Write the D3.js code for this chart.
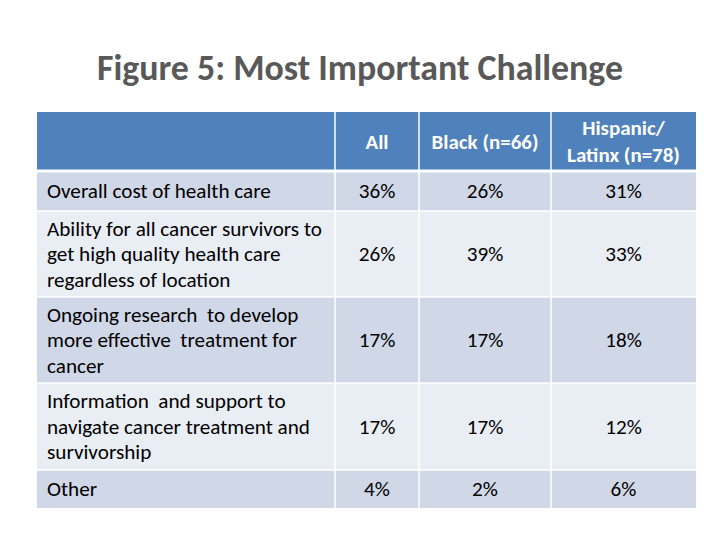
<!DOCTYPE html>
<html>
<head>
<meta charset="utf-8">
<script src="https://cdn.jsdelivr.net/npm/d3@7"></script>
<style>
  html, body { margin: 0; padding: 0; background: #ffffff; }
  svg { display: block; }
</style>
</head>
<body>
<svg id="chart" width="720" height="540"></svg>
<script>
// ---- Data ----
const title = "Figure 5: Most Important Challenge";
const columnHeaders = [[""], ["All"], ["Black (n=66)"], ["Hispanic/", "Latinx (n=78)"]];
const categories = [
  ["Overall cost of health care"],
  ["Ability for all cancer survivors to", "get high quality health care", "regardless of location"],
  ["Ongoing research  to develop", "more effective  treatment for", "cancer"],
  ["Information  and support to", "navigate cancer treatment and", "survivorship"],
  ["Other"]
];
const allValues = ["36%", "26%", "17%", "17%", "4%"];
const blackValues = ["26%", "39%", "17%", "17%", "2%"];
const hispanicValues = ["31%", "33%", "18%", "12%", "6%"];

// ---- Layout ----
const svg = d3.select("#chart");
const FONT = "Carlito, Calibri, Lato, 'Open Sans', sans-serif";
const colEdges = [37, 335, 419, 551, 696];
const headerTop = 112, headerBottom = 171;
const rowHeights = [40, 86, 86, 87, 38];
const rowTops = [];
{ let y = headerBottom; rowHeights.forEach(h => { rowTops.push(y); y += h; }); }

const xCol = d3.scaleOrdinal().domain([0,1,2,3]).range(colEdges.slice(0,4));
const colWidth = i => colEdges[i+1] - colEdges[i];
const rowFill = i => (i % 2 === 0 ? "#D0D8E8" : "#E9EDF4");

// Title
const t = svg.append("text")
  .attr("x", 360).attr("y", 80)
  .attr("text-anchor", "middle")
  .attr("font-family", FONT).attr("font-weight", "bold")
  .attr("font-size", 32).attr("fill", "#595959")
  .text(title);
{
  const w = t.node().getComputedTextLength();
  t.attr("font-size", 32 * 526 / w);
}

// Header
const header = svg.append("g");
columnHeaders.forEach((lines, i) => {
  header.append("rect")
    .attr("x", xCol(i)).attr("y", headerTop)
    .attr("width", colWidth(i)).attr("height", headerBottom - headerTop)
    .attr("fill", "#4F81BD");
  const cy = (headerTop + headerBottom) / 2;
  const lh = 27;
  lines.forEach((ln, k) => {
    header.append("text")
      .attr("x", xCol(i) + colWidth(i) / 2)
      .attr("y", cy + (k - (lines.length - 1) / 2) * lh + 7)
      .attr("text-anchor", "middle")
      .attr("font-family", FONT).attr("font-weight", "bold")
      .attr("font-size", 18).attr("fill", "#ffffff")
      .attr("class", "htext")
      .text(ln);
  });
});
{
  const ref = header.selectAll("text.htext").filter(function(){ return d3.select(this).text() === "Black (n=66)"; });
  const w = ref.node().getComputedTextLength();
  header.selectAll("text.htext").attr("font-size", 18 * 107 / w);
}

// Body
const body = svg.append("g");
const seriesCols = [allValues, blackValues, hispanicValues];
categories.forEach((lines, r) => {
  const top = rowTops[r], h = rowHeights[r];
  const cy = top + h / 2;
  for (let c = 0; c < 4; c++) {
    body.append("rect")
      .attr("x", xCol(c)).attr("y", top)
      .attr("width", colWidth(c)).attr("height", h)
      .attr("fill", rowFill(r));
  }
  const lh = 25.5;
  lines.forEach((ln, k) => {
    body.append("text")
      .attr("x", colEdges[0] + 10)
      .attr("y", cy + (k - (lines.length - 1) / 2) * lh + 7)
      .attr("font-family", FONT).attr("font-size", 18)
      .attr("fill", "#000000").attr("class", "btext")
      .style("white-space", "pre")
      .text(ln);
  });
  seriesCols.forEach((vals, s) => {
    body.append("text")
      .attr("x", xCol(s + 1) + colWidth(s + 1) / 2)
      .attr("y", cy + 7)
      .attr("text-anchor", "middle")
      .attr("font-family", FONT).attr("font-size", 18)
      .attr("fill", "#000000").attr("class", "btext")
      .text(vals[r]);
  });
});
{
  const ref = body.selectAll("text.btext").filter(function(){ return d3.select(this).text() === categories[0][0]; });
  const w = ref.node().getComputedTextLength();
  body.selectAll("text.btext").attr("font-size", 18 * 224 / w);
}

// White grid lines
const grid = svg.append("g").attr("stroke", "#ffffff").attr("stroke-width", 1.5);
colEdges.slice(1, 4).forEach(x => {
  grid.append("line").attr("x1", x).attr("x2", x).attr("y1", headerTop).attr("y2", rowTops[4] + rowHeights[4]);
});
[headerBottom, ...rowTops.slice(1)].forEach(y => {
  grid.append("line").attr("x1", colEdges[0]).attr("x2", colEdges[4]).attr("y1", y).attr("y2", y)
    .attr("stroke-width", y === headerBottom ? 3 : 1.5);
});
</script>
</body>
</html>
